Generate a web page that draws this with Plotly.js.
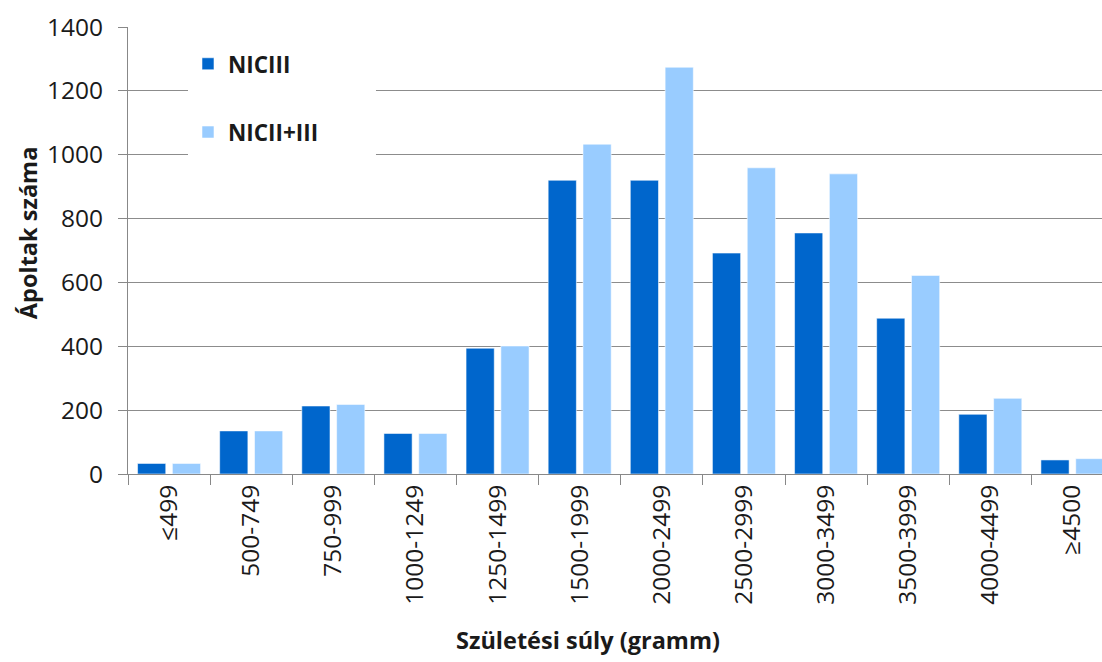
<!DOCTYPE html>
<html>
<head>
<meta charset="utf-8">
<script src="https://cdn.plot.ly/plotly-3.0.1.min.js"></script>
<style>html,body{margin:0;padding:0;background:#fff;}#chart{width:1102px;height:662px;}</style>
</head>
<body>
<div id="chart"></div>
<script>
const categories = ["≤499","500-749","750-999","1000-1249","1250-1499","1500-1999","2000-2499","2500-2999","3000-3499","3500-3999","4000-4499","≥4500"];
const nicIII = [33, 135, 213, 127, 394, 920, 920, 692, 755, 488, 187, 44];
const nicIIplusIII = [33, 135, 218, 127, 401, 1033, 1274, 959, 940, 622, 237, 48];
const yTicks = [0, 200, 400, 600, 800, 1000, 1200, 1400];

const fontFam = "'Open Sans', 'Liberation Sans', sans-serif";

const traces = [
  {type: "bar", name: "NICIII", x: categories, y: nicIII, legendgroup: "a",
   marker: {color: "#0066CC", line: {color: "rgba(255,255,255,0.55)", width: 1}}},
  {type: "bar", name: "NICII+III", x: categories, y: nicIIplusIII, legendgroup: "b",
   marker: {color: "#99CCFF", line: {color: "rgba(255,255,255,0.55)", width: 1}}}
];

const layout = {
  width: 1102, height: 662,
  margin: {l: 128, r: 0, t: 27, b: 188},
  paper_bgcolor: "#fff", plot_bgcolor: "#fff",
  barmode: "group", bargap: 0.152, bargroupgap: 0.19,
  font: {family: fontFam, color: "#1a1a1a"},
  xaxis: {
    type: "category", range: [-0.5, 11.36], tickson: "boundaries",
    ticks: "outside", ticklen: 10, tickcolor: "#888", tickwidth: 1,
    showline: true, linecolor: "#888", linewidth: 1,
    showgrid: false, tickangle: -90,
    tickfont: {size: 24.5, family: fontFam, color: "#1a1a1a"}
  },
  yaxis: {
    range: [0, 1400], tickvals: yTicks, ticks: "outside", ticklen: 9,
    tickcolor: "#888", showline: true, linecolor: "#888", linewidth: 1,
    showgrid: true, gridcolor: "#8c8c8c", gridwidth: 1, zeroline: false,
    ticklabelstandoff: 10,
    tickfont: {size: 24.5, family: fontFam, color: "#1a1a1a"}
  },
  showlegend: true,
  legend: {
    x: 0.0616, xanchor: "left", y: 0.965, yanchor: "top",
    bgcolor: "#fff", borderwidth: 0, traceorder: "grouped", tracegroupgap: 36,
    font: {size: 22.5, family: fontFam, color: "#1a1a1a", weight: "bold"}
  },
  shapes: [
    {type: "rect", xref: "paper", yref: "paper", layer: "above",
     x0: 0.0616, x1: 0.2546, y0: 0.70, y1: 0.975,
     fillcolor: "#fff", line: {width: 0}}
  ],
  annotations: [
    {text: "Születési súly (gramm)", xref: "paper", yref: "paper", x: 0.4723, y: -0.371,
     xanchor: "center", yanchor: "middle", showarrow: false,
     font: {size: 23.5, family: fontFam, color: "#1a1a1a", weight: "bold"}},
    {text: "Ápoltak száma", xref: "paper", yref: "paper", x: -0.1027, y: 0.541,
     xanchor: "center", yanchor: "middle", showarrow: false, textangle: -90,
     font: {size: 23.5, family: fontFam, color: "#1a1a1a", weight: "bold"}}
  ]
};

Plotly.newPlot("chart", traces, layout, {displayModeBar: false, responsive: false});
</script>
</body>
</html>
